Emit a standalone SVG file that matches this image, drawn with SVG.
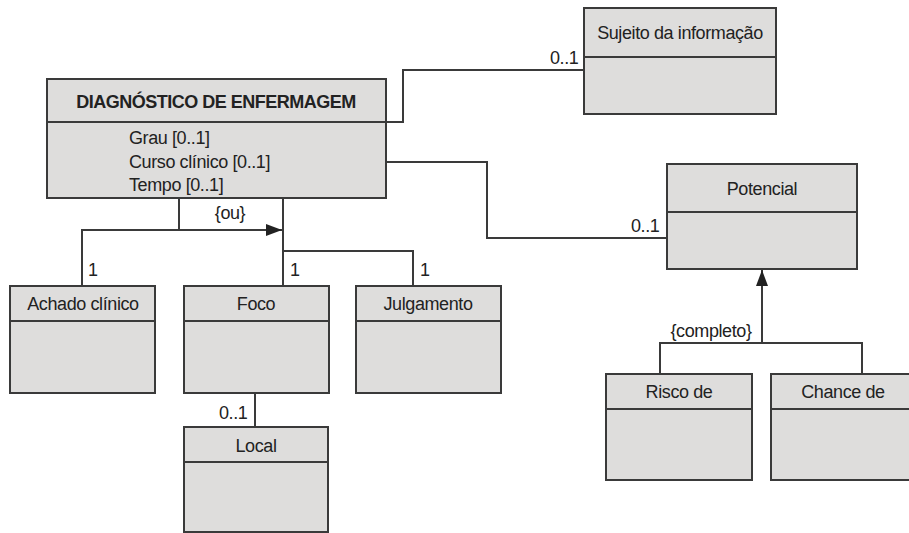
<svg xmlns="http://www.w3.org/2000/svg" width="909" height="533" viewBox="0 0 909 533">
<style>
.box{fill:#dedddc;stroke:#3a3a3a;stroke-width:2}
.div{stroke:#3a3a3a;stroke-width:2}
.t{font-family:"Liberation Sans",Arial,sans-serif;font-size:18px;fill:#222;letter-spacing:-0.4px}
.c{text-anchor:middle}
.b{font-weight:bold;font-size:18px;letter-spacing:-0.5px}
.ln{fill:none;stroke:#3a3a3a;stroke-width:2}
</style>
<defs>
<marker id="ah" viewBox="0 0 16 12" refX="16" refY="6" markerWidth="16" markerHeight="12" markerUnits="userSpaceOnUse" orient="auto">
<path d="M0,0 L16,6 L0,12 z" fill="#222"/>
</marker>
</defs>
<rect width="909" height="533" fill="#fff"/>
<g id="connectors">
<polyline class="ln" points="386,122 403,122 403,70 584,70"/>
<polyline class="ln" points="386,162 487,162 487,238 667,238"/>
<polyline class="ln" points="179,198 179,230 82,230 82,286"/>
<line class="ln" x1="179" y1="230" x2="282" y2="230" marker-end="url(#ah)"/>
<line class="ln" x1="283" y1="198" x2="283" y2="286"/>
<polyline class="ln" points="283,251 413,251 413,286"/>
<line class="ln" x1="255" y1="393" x2="255" y2="427"/>
<line class="ln" x1="762" y1="343" x2="762" y2="270" marker-end="url(#ah)"/>
<polyline class="ln" points="660,374 660,343 862,343 862,374"/>
<text class="t c" x="230" y="219">{ou}</text>
<text class="t" x="88" y="276">1</text>
<text class="t" x="290" y="276">1</text>
<text class="t" x="420" y="276">1</text>
<text class="t" x="550" y="64">0..1</text>
<text class="t" x="631" y="232">0..1</text>
<text class="t" x="219" y="419">0..1</text>
<text class="t c" x="711" y="337">{completo}</text>
</g>
<g id="diagnostico">
<rect class="box" x="47" y="79" width="339" height="119"/>
<line class="div" x1="47" y1="122" x2="386" y2="122"/>
<text class="t c b" x="216" y="108">DIAGNÓSTICO DE ENFERMAGEM</text>
<text class="t" x="129" y="144">Grau [0..1]</text>
<text class="t" x="129" y="168">Curso clínico [0..1]</text>
<text class="t" x="129" y="191">Tempo [0..1]</text>
</g>
<g id="sujeito">
<rect class="box" x="584" y="8" width="192" height="106"/>
<line class="div" x1="584" y1="57" x2="776" y2="57"/>
<text class="t c" x="680" y="39">Sujeito da informação</text>
</g>
<g id="potencial">
<rect class="box" x="667" y="164" width="190" height="105"/>
<line class="div" x1="667" y1="212" x2="857" y2="212"/>
<text class="t c" x="762" y="195">Potencial</text>
</g>
<g id="achado">
<rect class="box" x="10" y="286" width="145" height="107"/>
<line class="div" x1="10" y1="321" x2="155" y2="321"/>
<text class="t c" x="83" y="310">Achado clínico</text>
</g>
<g id="foco">
<rect class="box" x="184" y="286" width="145" height="107"/>
<line class="div" x1="184" y1="321" x2="329" y2="321"/>
<text class="t c" x="256" y="310">Foco</text>
</g>
<g id="julgamento">
<rect class="box" x="356" y="286" width="145" height="107"/>
<line class="div" x1="356" y1="321" x2="501" y2="321"/>
<text class="t c" x="428" y="310">Julgamento</text>
</g>
<g id="local">
<rect class="box" x="184" y="427" width="144" height="105"/>
<line class="div" x1="184" y1="462" x2="328" y2="462"/>
<text class="t c" x="256" y="452">Local</text>
</g>
<g id="risco">
<rect class="box" x="606" y="374" width="146" height="106"/>
<line class="div" x1="606" y1="409" x2="752" y2="409"/>
<text class="t c" x="679" y="398">Risco de</text>
</g>
<g id="chance">
<rect class="box" x="771" y="374" width="146" height="106"/>
<line class="div" x1="771" y1="409" x2="917" y2="409"/>
<text class="t c" x="843" y="398">Chance de</text>
</g>
</svg>
